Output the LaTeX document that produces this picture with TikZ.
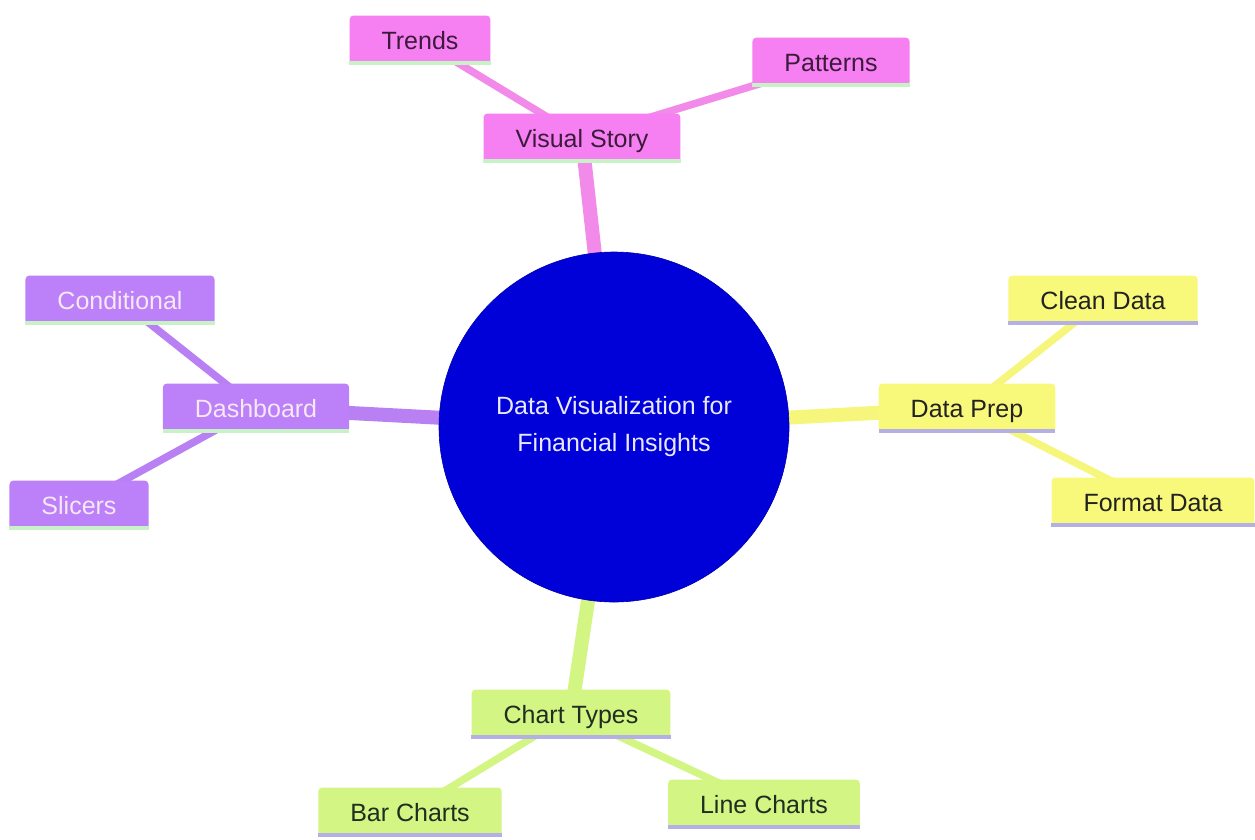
\documentclass[tikz,border=0pt]{standalone}
\usepackage{fontspec}
\setmainfont{Liberation Sans}
\usetikzlibrary{backgrounds}
\definecolor{pinkf}{HTML}{F680F1}
\definecolor{pinke}{HTML}{F28AEA}
\definecolor{pinkt}{HTML}{3C1A3C}
\definecolor{purf}{HTML}{BC80F8}
\definecolor{pure}{HTML}{B880F2}
\definecolor{purt}{HTML}{F6E8F6}
\definecolor{yelf}{HTML}{F8F87A}
\definecolor{yele}{HTML}{F6F67C}
\definecolor{yelt}{HTML}{222222}
\definecolor{grnf}{HTML}{D3F584}
\definecolor{grne}{HTML}{D3F584}
\definecolor{grnt}{HTML}{1F2F1F}
\definecolor{ulg}{HTML}{C6F2C6}
\definecolor{ull}{HTML}{B4B0E6}
\definecolor{cblue}{HTML}{0000D8}
\definecolor{ctext}{HTML}{E8E8FF}
\tikzset{
  box/.style={rectangle, rounded corners=4pt, minimum height=49pt, inner xsep=32pt,
    inner ysep=0pt, text height=20pt, text depth=2pt, font=\fontsize{25}{30}\selectfont},
  pinkbox/.style={box, fill=pinkf, text=pinkt},
  purbox/.style={box, fill=purf, text=purt},
  yelbox/.style={box, fill=yelf, text=yelt},
  grnbox/.style={box, fill=grnf, text=grnt},
  mainedge/.style={line width=14pt},
  subedge/.style={line width=7.5pt},
  ul/.style={line width=4pt}
}
\begin{document}
\begin{tikzpicture}[x=1pt,y=-1pt]
\useasboundingbox (0,0) rectangle (1255,839);
\node[circle, fill=cblue, draw=cblue!80!black, line width=0.6pt, minimum size=350pt, inner sep=0pt,
  text=ctext, align=center, font=\fontsize{25}{37}\selectfont] (root) at (614,427)
  {Data Visualization for\\Financial Insights};

\node[pinkbox] (vs) at (582,138) {Visual Story};
\node[pinkbox] (trends) at (420,40) {Trends};
\node[pinkbox] (patterns) at (831,62) {Patterns};

\node[purbox] (dash) at (256,408) {Dashboard};
\node[purbox] (cond) at (120,300) {Conditional};
\node[purbox] (slic) at (79,505) {Slicers};

\node[yelbox] (prep) at (967,408) {Data Prep};
\node[yelbox] (clean) at (1103,300) {Clean Data};
\node[yelbox] (format) at (1153,502) {Format Data};

\node[grnbox] (chart) at (571,714) {Chart Types};
\node[grnbox] (bar) at (410,812) {Bar Charts};
\node[grnbox] (line) at (764,804) {Line Charts};

\foreach \n/\c in {vs/ulg,trends/ulg,patterns/ulg,dash/ulg,cond/ulg,slic/ulg,
  prep/ull,clean/ull,format/ull,chart/ull,bar/ull,line/ull}
  \draw[ul,\c] ([yshift=1.5pt]\n.south west) -- ([yshift=1.5pt]\n.south east);

\begin{scope}[on background layer]
  \draw[mainedge, pinke] (root.center) -- (vs.center);
  \draw[subedge, pinke] (vs.center) -- (trends.center);
  \draw[subedge, pinke] (vs.center) -- (patterns.center);
  \draw[mainedge, pure] (root.center) -- (dash.center);
  \draw[subedge, pure] (dash.center) -- (cond.center);
  \draw[subedge, pure] (dash.center) -- (slic.center);
  \draw[mainedge, yele] (root.center) -- (prep.center);
  \draw[subedge, yele] (prep.center) -- (clean.center);
  \draw[subedge, yele] (prep.center) -- (format.center);
  \draw[mainedge, grne] (root.center) -- (chart.center);
  \draw[subedge, grne] (chart.center) -- (bar.center);
  \draw[subedge, grne] (chart.center) -- (line.center);
\end{scope}
\end{tikzpicture}
\end{document}
